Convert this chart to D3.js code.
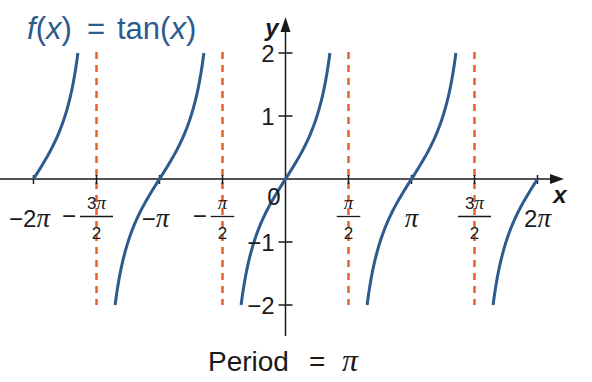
<!DOCTYPE html>
<html>
<head>
<meta charset="utf-8">
<script src="https://cdn.jsdelivr.net/npm/d3@7"></script>
<style>
body { margin: 0; background: #fff; }
text { font-family: "Liberation Sans", Arial, sans-serif; }
</style>
</head>
<body>
<div id="chart"></div>
<script>
var PI = Math.PI;

// Tick values along x, in multiples of pi/2
var xTickSteps = [-4, -3, -2, -1, 1, 2, 3, 4];
var xTickNeg = [true, true, true, true, false, false, false, false];
var xTickNum = ["2π", "3π", "π", "π", "π", "π", "3π", "2π"];
var xTickDen = ["", "2", "", "2", "2", "", "2", ""];

// y ticks
var yTicks = [-2, -1, 1, 2];
var yTickLabels = ["−2", "−1", "1", "2"];

// vertical asymptotes (multiples of pi/2) and branch centres (multiples of pi)
var asymptoteSteps = [-3, -1, 1, 3];
var branchCenters = [-2, -1, 0, 1, 2];

var width = 592, height = 382;
var blue = "#2c5b8e", orange = "#e8612c", ink = "#1a1a1a";

var x = d3.scaleLinear().domain([-2 * PI, 2 * PI]).range([33.5, 537.5]);
var y = d3.scaleLinear().domain([-2, 2]).range([305, 53]);

var svg = d3.select("#chart").append("svg")
    .attr("width", width)
    .attr("height", height);

var x0 = x(0), y0 = y(0);

// write a label, setting pi in a serif italic like the original
function mathText(sel, str) {
    str.split(/(π)/).forEach(function(part) {
        if (!part) return;
        var t = sel.append("tspan").text(part);
        if (part === "π") {
            t.style("font-family", "'Liberation Serif', serif")
                .style("font-style", "italic")
                .style("font-size", "1.12em");
        }
    });
    return sel;
}

// Asymptotes
svg.selectAll(".asym")
    .data(asymptoteSteps)
    .enter().append("line")
    .attr("x1", function(d) { return x(d * PI / 2); })
    .attr("x2", function(d) { return x(d * PI / 2); })
    .attr("y1", y(2) - 1)
    .attr("y2", y(-2))
    .attr("stroke", orange)
    .attr("stroke-width", 2.5)
    .attr("stroke-dasharray", "7,6");

// Axes
svg.append("line")
    .attr("x1", 0).attr("x2", 552)
    .attr("y1", y0).attr("y2", y0)
    .attr("stroke", ink).attr("stroke-width", 1.5);
svg.append("path")
    .attr("d", "M564," + y0 + "L550," + (y0 - 5) + "L550," + (y0 + 5) + "Z")
    .attr("fill", ink);

svg.append("line")
    .attr("x1", x0).attr("x2", x0)
    .attr("y1", 336).attr("y2", 30)
    .attr("stroke", ink).attr("stroke-width", 1.5);
svg.append("path")
    .attr("d", "M" + x0 + ",17L" + (x0 - 5) + ",32L" + (x0 + 5) + ",32Z")
    .attr("fill", ink);

// x ticks
svg.selectAll(".xtick")
    .data(xTickSteps)
    .enter().append("line")
    .attr("x1", function(d) { return x(d * PI / 2); })
    .attr("x2", function(d) { return x(d * PI / 2); })
    .attr("y1", y0 - 4).attr("y2", y0 + 5)
    .attr("stroke", ink).attr("stroke-width", 1.5);

// y ticks
svg.selectAll(".ytick")
    .data(yTicks)
    .enter().append("line")
    .attr("x1", x0 - 7).attr("x2", x0 + 7)
    .attr("y1", function(d) { return y(d); })
    .attr("y2", function(d) { return y(d); })
    .attr("stroke", ink).attr("stroke-width", 1.5);

// tan curve, one branch per period, clipped to |y| <= 2
var line = d3.line()
    .x(function(d) { return x(d[0]); })
    .y(function(d) { return y(d[1]); });
var reach = Math.atan(2);

branchCenters.forEach(function(c) {
    var lo = Math.max(c * PI - reach, -2 * PI);
    var hi = Math.min(c * PI + reach, 2 * PI);
    var pts = d3.range(0, 61).map(function(i) {
        var t = lo + (hi - lo) * i / 60;
        return [t, Math.tan(t)];
    });
    svg.append("path")
        .attr("d", line(pts))
        .attr("fill", "none")
        .attr("stroke", blue)
        .attr("stroke-width", 3);
});

// x tick labels
xTickSteps.forEach(function(s, i) {
    var cx = x(s * PI / 2);
    var g = svg.append("g").attr("transform", "translate(" + cx + ",0)");
    if (xTickDen[i]) {
        var num = g.append("text")
            .attr("x", 0).attr("y", 209)
            .attr("text-anchor", "middle")
            .style("font-size", "17px").style("fill", ink);
        mathText(num, xTickNum[i]);
        var w = num.node().getComputedTextLength() + 14;
        g.append("line")
            .attr("x1", -w / 2).attr("x2", w / 2)
            .attr("y1", 216.5).attr("y2", 216.5)
            .attr("stroke", ink).attr("stroke-width", 1.3);
        g.append("text")
            .attr("x", 0).attr("y", 239)
            .attr("text-anchor", "middle")
            .style("font-size", "17px").style("fill", ink)
            .text(xTickDen[i]);
        if (xTickNeg[i]) {
            g.append("text")
                .attr("x", -w / 2 - 4).attr("y", 224)
                .attr("text-anchor", "end")
                .style("font-size", "24px").style("fill", ink)
                .text("−");
        }
    } else {
        var lab = g.append("text")
            .attr("x", xTickNeg[i] ? -4 : 0).attr("y", 227)
            .attr("text-anchor", "middle")
            .style("font-size", "24px").style("fill", ink);
        mathText(lab, (xTickNeg[i] ? "−" : "") + xTickNum[i]);
    }
});

// origin label
svg.append("text")
    .attr("x", x0 - 5).attr("y", 205)
    .attr("text-anchor", "end")
    .style("font-size", "24px").style("fill", ink)
    .text("0");

// y tick labels
svg.selectAll(".ylab")
    .data(yTicks)
    .enter().append("text")
    .attr("x", x0 - 11)
    .attr("y", function(d) { return y(d) + 8.5; })
    .attr("text-anchor", "end")
    .style("font-size", "24px").style("fill", ink)
    .text(function(d, i) { return yTickLabels[i]; });

// axis names
svg.append("text")
    .attr("x", x0 - 7).attr("y", 36)
    .attr("text-anchor", "end")
    .style("font-size", "24px").style("font-weight", "bold").style("font-style", "italic")
    .style("fill", ink)
    .text("y");
svg.append("text")
    .attr("x", 560).attr("y", 203)
    .attr("text-anchor", "middle")
    .style("font-size", "24px").style("font-weight", "bold").style("font-style", "italic")
    .style("fill", ink)
    .text("x");

// title
var title = svg.append("text")
    .attr("x", 27).attr("y", 39)
    .style("font-size", "31px").style("fill", blue);
title.append("tspan").style("font-style", "italic").text("f");
title.append("tspan").text("(");
title.append("tspan").style("font-style", "italic").text("x");
title.append("tspan").text(")");
title.append("tspan").attr("x", 87).text("=");
title.append("tspan").attr("x", 117).text("tan(");
title.append("tspan").style("font-style", "italic").text("x");
title.append("tspan").text(")");

// caption
var cap = svg.append("text")
    .attr("x", 208).attr("y", 371)
    .style("font-size", "28px").style("fill", ink);
cap.append("tspan").text("Period");
cap.append("tspan").attr("x", 309).text("=");
cap.append("tspan").attr("x", 342)
    .style("font-family", "'Liberation Serif', serif").style("font-style", "italic")
    .style("font-size", "32px")
    .text("π");
</script>
</body>
</html>
